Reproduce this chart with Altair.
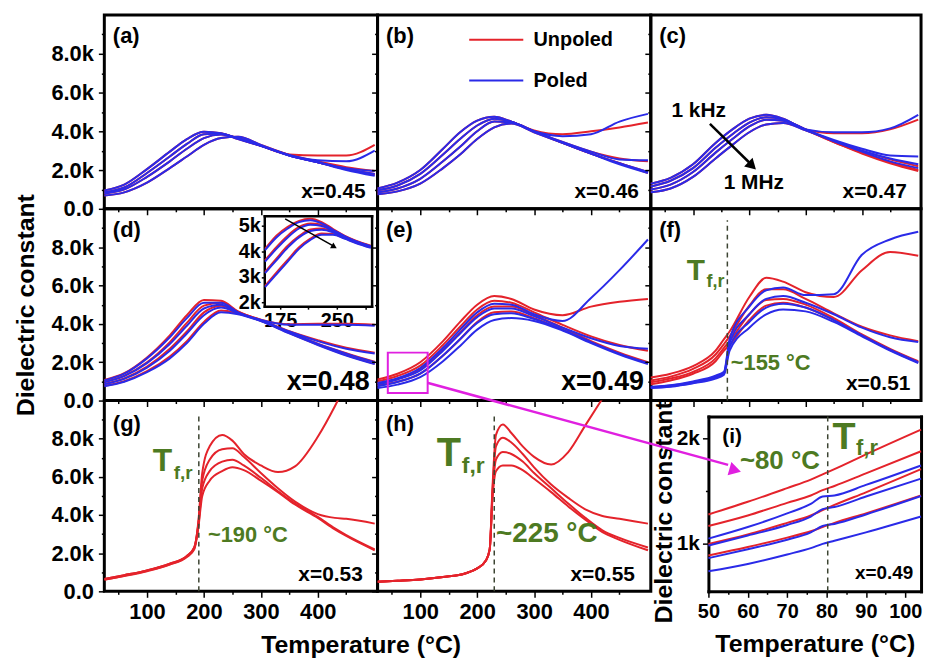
import altair as alt
import pandas as pd

FONT = "Liberation Sans"
RED = "#e4232b"
BLUE = "#2a2ae8"
GREEN = "#4d7a22"
MAGENTA = "#e020e0"
DASH = "#3c4432"

# ---------------- data (dielectric constant in units of 1k) ----------------
T_STD = [25, 60, 100, 140, 170, 200, 230, 260, 300, 350, 400, 450, 500]

# (a) x=0.45
A_UNPOLED = [[0.95, 1.25, 2.05, 2.95, 3.6, 3.98, 3.9, 3.6, 3.25, 2.8, 2.75, 2.75, 3.3],
             [0.85, 1.1, 1.85, 2.7, 3.35, 3.85, 3.88, 3.62, 3.25, 2.78, 2.45, 2.15, 1.95],
             [0.78, 1.0, 1.65, 2.45, 3.1, 3.65, 3.83, 3.65, 3.25, 2.75, 2.4, 2.05, 1.8],
             [0.68, 0.85, 1.35, 2.1, 2.7, 3.3, 3.65, 3.72, 3.3, 2.78, 2.4, 2.05, 1.75]]
A_POLED = [[0.95, 1.25, 2.05, 2.95, 3.6, 3.98, 3.9, 3.6, 3.25, 2.78, 2.5, 2.45, 3.0],
           [0.85, 1.1, 1.85, 2.7, 3.35, 3.85, 3.88, 3.62, 3.25, 2.75, 2.4, 2.1, 1.95],
           [0.78, 1.0, 1.65, 2.45, 3.1, 3.65, 3.83, 3.65, 3.25, 2.75, 2.4, 2.05, 1.8],
           [0.68, 0.85, 1.35, 2.1, 2.7, 3.3, 3.65, 3.72, 3.3, 2.75, 2.4, 2.0, 1.7]]

# (b) x=0.46
B_UNPOLED = [[1.05, 1.35, 2.0, 3.1, 3.95, 4.55, 4.75, 4.5, 4.05, 3.85, 4.0, 4.2, 4.45],
             [0.95, 1.2, 1.8, 2.8, 3.6, 4.3, 4.65, 4.5, 4.0, 3.45, 2.95, 2.6, 2.45],
             [0.85, 1.05, 1.55, 2.45, 3.2, 4.0, 4.5, 4.45, 4.0, 3.4, 2.85, 2.35, 1.9],
             [0.75, 0.9, 1.3, 2.1, 2.8, 3.6, 4.2, 4.4, 3.95, 3.4, 2.85, 2.35, 1.85]]
B_POLED = [[1.05, 1.35, 2.0, 3.1, 3.95, 4.55, 4.75, 4.5, 4.0, 3.75, 3.85, 4.5, 4.9],
           [0.95, 1.2, 1.8, 2.8, 3.6, 4.3, 4.65, 4.5, 4.0, 3.45, 2.95, 2.55, 2.5],
           [0.85, 1.05, 1.55, 2.45, 3.2, 4.0, 4.5, 4.45, 4.0, 3.4, 2.85, 2.35, 1.9],
           [0.75, 0.9, 1.3, 2.1, 2.8, 3.6, 4.2, 4.4, 3.95, 3.4, 2.85, 2.3, 1.85]]

# (c) x=0.47
C_UNPOLED = [[1.3, 1.6, 2.3, 3.4, 4.1, 4.65, 4.85, 4.65, 4.1, 3.9, 3.9, 4.1, 4.6],
             [1.15, 1.45, 2.1, 3.15, 3.85, 4.45, 4.72, 4.6, 4.1, 3.5, 3.0, 2.55, 2.2],
             [1.0, 1.25, 1.9, 2.9, 3.6, 4.25, 4.6, 4.55, 4.08, 3.45, 2.9, 2.4, 2.0],
             [0.85, 1.05, 1.65, 2.6, 3.3, 3.95, 4.35, 4.43, 4.05, 3.45, 2.85, 2.35, 1.95]]
C_POLED = [[1.3, 1.6, 2.3, 3.4, 4.1, 4.65, 4.85, 4.65, 4.1, 3.95, 3.95, 4.15, 4.85],
           [1.15, 1.45, 2.1, 3.15, 3.85, 4.45, 4.72, 4.6, 4.1, 3.55, 3.1, 2.75, 2.7],
           [1.0, 1.25, 1.9, 2.9, 3.6, 4.25, 4.6, 4.55, 4.08, 3.5, 3.0, 2.6, 2.3],
           [0.85, 1.05, 1.65, 2.6, 3.3, 3.95, 4.35, 4.43, 4.05, 3.5, 2.95, 2.45, 2.1]]

# (d) x=0.48
D_UNPOLED = [[1.08, 1.43, 2.25, 3.4, 4.45, 5.25, 5.2, 4.65, 4.22, 3.98, 4.0, 4.0, 3.95],
             [0.98, 1.3, 2.0, 3.05, 4.05, 4.95, 5.1, 4.62, 4.2, 3.62, 3.15, 2.75, 2.5],
             [0.87, 1.16, 1.77, 2.7, 3.6, 4.6, 4.95, 4.6, 4.18, 3.57, 2.97, 2.47, 2.02],
             [0.77, 1.01, 1.53, 2.3, 3.1, 4.1, 4.7, 4.55, 4.16, 3.52, 2.92, 2.37, 1.92]]
D_POLED = [[1.05, 1.4, 2.2, 3.3, 4.3, 5.1, 5.1, 4.6, 4.2, 3.95, 3.95, 3.95, 3.9],
           [0.95, 1.27, 1.95, 2.95, 3.9, 4.8, 5.0, 4.58, 4.18, 3.6, 3.1, 2.7, 2.45],
           [0.85, 1.13, 1.72, 2.6, 3.5, 4.45, 4.85, 4.55, 4.16, 3.55, 2.95, 2.45, 2.0],
           [0.75, 0.98, 1.48, 2.2, 3.0, 4.0, 4.6, 4.5, 4.14, 3.5, 2.9, 2.35, 1.9]]

# inset of (d)
T_INSET = [155, 170, 185, 200, 215, 230, 245, 260, 275, 295]
INSET_UNPOLED = [[4.1, 4.62, 4.97, 5.2, 5.28, 5.15, 4.88, 4.62, 4.42, 4.22],
                 [3.65, 4.17, 4.62, 4.96, 5.1, 5.05, 4.83, 4.6, 4.4, 4.2],
                 [3.2, 3.72, 4.22, 4.6, 4.86, 4.9, 4.78, 4.57, 4.38, 4.18],
                 [2.65, 3.17, 3.67, 4.16, 4.5, 4.7, 4.68, 4.52, 4.35, 4.16]]
INSET_POLED = [[4.05, 4.55, 4.9, 5.15, 5.22, 5.1, 4.85, 4.6, 4.4, 4.2],
               [3.6, 4.1, 4.55, 4.9, 5.05, 5.0, 4.8, 4.58, 4.38, 4.18],
               [3.15, 3.65, 4.15, 4.55, 4.8, 4.85, 4.75, 4.55, 4.36, 4.16],
               [2.6, 3.1, 3.6, 4.1, 4.45, 4.65, 4.65, 4.5, 4.33, 4.14]]

# (e) x=0.49
E_UNPOLED = [[1.1, 1.4, 2.0, 3.1, 4.1, 5.0, 5.45, 5.3, 4.75, 4.45, 4.9, 5.15, 5.3],
             [1.0, 1.28, 1.82, 2.9, 3.85, 4.75, 5.2, 5.1, 4.6, 3.95, 3.35, 2.9, 2.6],
             [0.9, 1.12, 1.65, 2.65, 3.55, 4.45, 4.9, 4.9, 4.45, 3.8, 3.1, 2.5, 2.0],
             [0.78, 0.98, 1.4, 2.35, 3.2, 4.1, 4.6, 4.65, 4.3, 3.7, 3.05, 2.45, 1.95]]
E_POLED = [[0.92, 1.17, 1.7, 2.75, 3.7, 4.6, 5.05, 5.0, 4.5, 4.15, 5.35, 6.8, 8.4],
           [0.85, 1.1, 1.57, 2.6, 3.5, 4.35, 4.8, 4.8, 4.4, 3.8, 3.25, 2.85, 2.7],
           [0.75, 0.97, 1.4, 2.35, 3.2, 4.05, 4.5, 4.55, 4.25, 3.7, 3.05, 2.45, 1.95],
           [0.65, 0.83, 1.22, 2.05, 2.85, 3.7, 4.2, 4.3, 4.15, 3.65, 3.0, 2.4, 1.9]]

# (f) x=0.51
T_F = [25, 60, 100, 140, 155, 165, 200, 230, 260, 300, 350, 400, 450, 500]
F_UNPOLED = [[1.2, 1.4, 1.8, 2.6, 3.2, 3.6, 5.4, 6.4, 6.2, 5.65, 5.4, 6.8, 7.75, 7.55],
             [1.05, 1.25, 1.65, 2.4, 2.95, 3.35, 4.95, 5.8, 5.8, 5.3, 4.55, 3.85, 3.4, 3.1],
             [0.95, 1.15, 1.5, 2.2, 2.75, 3.1, 4.5, 5.25, 5.3, 5.0, 4.3, 3.45, 2.7, 2.05],
             [0.85, 1.05, 1.4, 2.05, 2.6, 2.9, 4.2, 4.95, 5.1, 4.85, 4.2, 3.4, 2.65, 2.0]]
F_POLED = [[0.72, 0.8, 1.0, 1.3, 1.5, 3.2, 4.9, 5.75, 5.9, 5.5, 5.55, 7.6, 8.4, 8.8],
           [0.7, 0.78, 0.95, 1.25, 1.45, 3.0, 4.5, 5.3, 5.45, 5.1, 4.5, 3.8, 3.3, 3.05],
           [0.68, 0.75, 0.92, 1.2, 1.4, 2.8, 4.1, 4.85, 5.05, 4.85, 4.2, 3.4, 2.65, 2.0],
           [0.65, 0.72, 0.9, 1.15, 1.35, 2.6, 3.8, 4.5, 4.75, 4.65, 4.1, 3.35, 2.6, 1.95]]

# (g) x=0.53
T_G = [25, 60, 100, 140, 170, 183, 190, 197, 210, 232, 250, 270, 300, 330, 360, 400, 430, 450, 500]
G_UNPOLED = [[0.65, 0.85, 1.1, 1.45, 1.85, 2.3, 3.6, 6.2, 7.6, 8.2, 7.9, 7.2, 6.6, 6.25, 6.55, 8.1, 9.7, 10.9, 13.0],
             [0.65, 0.85, 1.1, 1.45, 1.85, 2.3, 3.5, 5.8, 6.9, 7.45, 7.5, 7.05, 6.2, 5.4, 4.7, 4.05, 3.85, 3.8, 3.55],
             [0.62, 0.82, 1.08, 1.42, 1.82, 2.25, 3.4, 5.4, 6.3, 6.8, 6.9, 6.6, 5.95, 5.25, 4.6, 3.9, 3.3, 2.95, 2.2],
             [0.6, 0.8, 1.05, 1.4, 1.8, 2.2, 3.3, 5.0, 5.8, 6.3, 6.5, 6.35, 5.8, 5.2, 4.55, 3.85, 3.25, 2.9, 2.15]]

# (h) x=0.55
T_H = [25, 60, 100, 140, 180, 200, 215, 222, 227, 233, 245, 260, 280, 300, 330, 360, 390, 420, 450, 500]
H_UNPOLED = [[0.5, 0.55, 0.62, 0.75, 0.95, 1.2, 1.6, 2.2, 5.5, 8.2, 8.75, 8.3, 7.6, 7.05, 6.65, 7.3, 8.7, 10.1, 11.5, 14.0],
             [0.5, 0.55, 0.62, 0.75, 0.95, 1.2, 1.6, 2.2, 5.3, 7.6, 8.05, 7.8, 7.2, 6.5, 5.6, 4.9, 4.3, 3.95, 3.8, 3.55],
             [0.5, 0.55, 0.62, 0.75, 0.95, 1.2, 1.6, 2.2, 5.1, 6.9, 7.3, 7.2, 6.8, 6.2, 5.4, 4.6, 3.85, 3.2, 2.8, 2.3],
             [0.5, 0.55, 0.62, 0.75, 0.95, 1.2, 1.6, 2.2, 4.9, 6.3, 6.6, 6.6, 6.35, 5.9, 5.2, 4.45, 3.75, 3.1, 2.7, 2.15]]

# (i) x=0.49, zoom 50-104 C
T_I = [50, 60, 70, 76, 79, 82, 90, 104]
I_UNPOLED = [[1.28, 1.40, 1.53, 1.61, 1.66, 1.71, 1.85, 2.085],
             [1.17, 1.27, 1.39, 1.46, 1.51, 1.55, 1.67, 1.88],
             [1.0, 1.09, 1.2, 1.27, 1.32, 1.37, 1.49, 1.71],
             [0.89, 0.97, 1.06, 1.12, 1.16, 1.20, 1.29, 1.46]]
I_POLED = [[1.05, 1.16, 1.29, 1.38, 1.45, 1.46, 1.56, 1.745],
           [0.985, 1.08, 1.18, 1.26, 1.33, 1.35, 1.45, 1.62],
           [0.865, 0.95, 1.04, 1.11, 1.17, 1.19, 1.28, 1.455],
           [0.74, 0.81, 0.9, 0.96, 1.0, 1.03, 1.11, 1.26]]


# ---------------- helpers ----------------
def curve_frame(T, unpoled, poled):
    rows = []
    for pol, arrs in (("Unpoled", unpoled), ("Poled", poled)):
        for k, arr in enumerate(arrs):
            for t, v in zip(T, arr):
                rows.append({"T": t, "v": v, "pol": pol, "curve": f"{pol}-{k}"})
    return pd.DataFrame(rows, columns=["T", "v", "pol", "curve"])


def cond(test, major, minor):
    return {"condition": {"test": test, "value": major}, "value": minor}


def main_x(labels=False, title=None):
    kw = dict(values=list(range(50, 500, 50)), labels=labels,
              labelExpr="datum.value % 100 === 0 ? '' + datum.value : ''",
              tickSize=cond("datum.value % 100 === 0", 6, 3), grid=False, domain=False,
              labelFlush=False, labelOverlap=False, labelPadding=4)
    if title:
        kw.update(title=title, titleX=258, titlePadding=11)
    else:
        kw["title"] = None
    return alt.X("T:Q", scale=alt.Scale(domain=[25, 505], nice=False, zero=False), axis=alt.Axis(**kw))


def main_y(labels=False, title=None):
    kw = dict(values=list(range(0, 10)), labels=labels,
              labelExpr="datum.value % 2 === 0 ? (datum.value === 0 ? '0.0' : format(datum.value, '.1f') + 'k') : ''",
              tickSize=cond("datum.value % 2 === 0", 6, 3), grid=False, domain=False,
              labelFlush=False, labelOverlap=False, labelPadding=5)
    if title:
        kw.update(title=title, titlePadding=12)
    else:
        kw["title"] = None
    return alt.Y("v:Q", scale=alt.Scale(domain=[0, 10], nice=False, zero=False), axis=alt.Axis(**kw))


def line_layers(df, X, Y, clip=False):
    out = []
    for pol, col in (("Unpoled", RED), ("Poled", BLUE)):
        sub = df[df["pol"] == pol]
        if len(sub):
            out.append(alt.Chart(sub).mark_line(color=col, strokeWidth=2, interpolate="monotone", clip=clip)
                       .encode(x=X, y=Y, detail="curve:N"))
    return out


def label(X, Y, T, v, s, size, color="black", align="left", baseline="alphabetic"):
    return alt.Chart(pd.DataFrame({"T": [T], "v": [v], "s": [s]})).mark_text(
        font=FONT, fontWeight="bold", fontSize=size, color=color, align=align, baseline=baseline
    ).encode(x=X, y=Y, text="s:N")


def seg(X, Y, T1, v1, T2, v2, color, width, dash=None):
    kw = dict(color=color, strokeWidth=width)
    if dash:
        kw["strokeDash"] = dash
    return alt.Chart(pd.DataFrame({"T": [T1], "v": [v1], "T2": [T2], "v2": [v2]})).mark_rule(**kw).encode(
        x=X, y=Y, x2="T2:Q", y2="v2:Q")


def head(X, Y, T, v, color, size, angle):
    return alt.Chart(pd.DataFrame({"T": [T], "v": [v]})).mark_point(
        shape="triangle-right", filled=True, color=color, size=size, angle=angle, opacity=1, strokeWidth=0
    ).encode(x=X, y=Y)


W1, W2, W3 = 275, 275, 272
H1, H2, H3 = 195, 193, 192

# ---------------- row 1 ----------------
X = main_x(); Y = main_y(labels=True)
p_a = alt.layer(*line_layers(curve_frame(T_STD, A_UNPOLED, A_POLED), X, Y),
                label(X, Y, 40, 8.9, "(a)", 22, baseline="middle"),
                label(X, Y, 484, 0.85, "x=0.45", 21, align="right", baseline="middle")
                ).properties(width=W1, height=H1)

X = main_x(); Y = main_y()
p_b = alt.layer(*line_layers(curve_frame(T_STD, B_UNPOLED, B_POLED), X, Y),
                label(X, Y, 40, 8.9, "(b)", 22, baseline="middle"),
                seg(X, Y, 186, 8.72, 281, 8.72, RED, 2),
                seg(X, Y, 186, 6.62, 281, 6.62, BLUE, 2),
                label(X, Y, 299, 8.72, "Unpoled", 20, baseline="middle"),
                label(X, Y, 299, 6.62, "Poled", 20, baseline="middle"),
                label(X, Y, 484, 0.85, "x=0.46", 21, align="right", baseline="middle")
                ).properties(width=W2, height=H1)

X = main_x(); Y = main_y()
p_c = alt.layer(*line_layers(curve_frame(T_STD, C_UNPOLED, C_POLED), X, Y),
                label(X, Y, 40, 8.9, "(c)", 22, baseline="middle"),
                label(X, Y, 110, 5.05, "1 kHz", 21, align="center", baseline="middle"),
                label(X, Y, 208, 1.35, "1 MHz", 21, align="center", baseline="middle"),
                seg(X, Y, 130, 4.38, 203, 2.3, "black", 2.5),
                head(X, Y, 205, 2.22, "black", 150, 44),
                label(X, Y, 480, 0.85, "x=0.47", 21, align="right", baseline="middle")
                ).properties(width=W3, height=H1)

# ---------------- row 2 ----------------
X = main_x(); Y = main_y(labels=True, title="Dielectric constant")
d_main = alt.layer(*line_layers(curve_frame(T_STD, D_UNPOLED, D_POLED), X, Y),
                   label(X, Y, 40, 8.9, "(d)", 22, baseline="middle"),
                   label(X, Y, 491, 0.95, "x=0.48", 27, align="right", baseline="middle"))
XD = alt.X("T:Q", scale=alt.Scale(domain=[154, 296], range=[161, 269], nice=False, zero=False),
           axis=alt.Axis(orient="bottom", offset=-95, values=[175, 212.5, 250, 287.5],
                         labelExpr="datum.value === 175 || datum.value === 250 ? '' + datum.value : ''",
                         tickSize=3, labelFontSize=20, labelPadding=1, labelFlush=False, labelOverlap=False,
                         domain=True, domainWidth=2.5, domainColor="black", domainCap="square", title=None))
YD = alt.Y("v:Q", scale=alt.Scale(domain=[1.85, 5.4], range=[98, 7], nice=False, zero=False),
           axis=alt.Axis(orient="left", offset=-161, values=[2, 3, 4, 5], labelExpr="datum.value + 'k'",
                         tickSize=3, labelFontSize=20, labelPadding=1, labelFlush=False, labelOverlap=False,
                         domain=True, domainWidth=2.5, domainColor="black", domainCap="square", title=None))
d_inset = alt.layer(*line_layers(curve_frame(T_INSET, INSET_UNPOLED, INSET_POLED), XD, YD))
XD2 = alt.X("T:Q", scale=alt.Scale(domain=[154, 296], range=[161, 269], nice=False, zero=False),
            axis=alt.Axis(orient="top", offset=-7, labels=False, ticks=False, domain=True, domainWidth=2.5,
                          domainColor="black", domainCap="square", title=None))
YD2 = alt.Y("v:Q", scale=alt.Scale(domain=[1.85, 5.4], range=[98, 7], nice=False, zero=False),
            axis=alt.Axis(orient="right", offset=-6, labels=False, ticks=False, domain=True, domainWidth=2.5,
                          domainColor="black", domainCap="square", title=None))
d_inset2 = alt.layer(seg(XD2, YD2, 181.6, 5.28, 244, 4.24, "black", 1.5),
                     head(XD2, YD2, 246.5, 4.18, "black", 45, 30))
p_d = alt.layer(d_main, d_inset, d_inset2).resolve_scale(x="independent", y="independent").properties(
    width=W1, height=H2)

X = main_x(); Y = main_y()
p_e = alt.layer(*line_layers(curve_frame(T_STD, E_UNPOLED, E_POLED), X, Y),
                label(X, Y, 40, 8.9, "(e)", 22, baseline="middle"),
                alt.Chart(pd.DataFrame({"T": [43], "v": [0.4], "T2": [113], "v2": [2.5]})).mark_rect(
                    fillOpacity=0, stroke=MAGENTA, strokeWidth=2).encode(x=X, y=Y, x2="T2:Q", y2="v2:Q"),
                label(X, Y, 493, 0.95, "x=0.49", 27, align="right", baseline="middle")
                ).properties(width=W2, height=H2)

X = main_x(); Y = main_y()
p_f = alt.layer(*line_layers(curve_frame(T_F, F_UNPOLED, F_POLED), X, Y),
                seg(X, Y, 161, 0, 161, 9.4, DASH, 1.5, dash=[5, 4]),
                label(X, Y, 40, 8.9, "(f)", 22, baseline="middle"),
                label(X, Y, 89, 6.3, "T", 30, color=GREEN),
                label(X, Y, 124, 5.9, "f,r", 18, color=GREEN),
                label(X, Y, 167, 1.6, "~155 °C", 22, color=GREEN),
                label(X, Y, 486, 0.85, "x=0.51", 21, align="right", baseline="middle")
                ).properties(width=W3, height=H2)

# ---------------- row 3 ----------------
X = main_x(labels=True, title="Temperature (°C)"); Y = main_y(labels=True)
p_g = alt.layer(*line_layers(curve_frame(T_G, G_UNPOLED, []), X, Y, clip=True),
                seg(X, Y, 191, 0, 191, 9.3, DASH, 1.5, dash=[5, 4]),
                label(X, Y, 40, 8.75, "(g)", 22, baseline="middle"),
                label(X, Y, 110, 6.3, "T", 32, color=GREEN),
                label(X, Y, 147, 5.9, "f,r", 19, color=GREEN),
                label(X, Y, 207, 2.6, "~190 °C", 22, color=GREEN),
                label(X, Y, 479, 0.85, "x=0.53", 21, align="right", baseline="middle")
                ).properties(width=W1, height=H3)

X = main_x(labels=True); Y = main_y()
p_h = alt.layer(*line_layers(curve_frame(T_H, H_UNPOLED, []), X, Y, clip=True),
                seg(X, Y, 230, 0, 230, 9.3, DASH, 1.5, dash=[5, 4]),
                label(X, Y, 40, 8.75, "(h)", 22, baseline="middle"),
                label(X, Y, 129, 6.55, "T", 40, color=GREEN),
                label(X, Y, 173, 6.2, "f,r", 23, color=GREEN),
                label(X, Y, 233, 2.6, "~225 °C", 28, color=GREEN),
                label(X, Y, 477, 0.85, "x=0.55", 21, align="right", baseline="middle")
                ).properties(width=W2, height=H3)

XI = alt.X("T:Q", scale=alt.Scale(domain=[50, 104], range=[58, 272], nice=False, zero=False),
           axis=alt.Axis(orient="bottom", values=list(range(50, 105, 5)),
                         labelExpr="datum.value % 10 === 0 ? '' + datum.value : ''",
                         tickSize=cond("datum.value % 10 === 0", 6, 3), labelFontSize=20, labelPadding=4,
                         labelFlush=False, labelOverlap=False, domain=True, domainWidth=3, domainColor="black",
                         domainCap="square", title="Temperature (°C)", titlePadding=11))
YI = alt.Y("v:Q", scale=alt.Scale(domain=[0.55, 2.21], range=[192, 16], nice=False, zero=False),
           axis=alt.Axis(orient="left", offset=-58, values=[1, 1.5, 2],
                         labelExpr="datum.value === 1 ? '1k' : (datum.value === 2 ? '2k' : '')",
                         tickSize=cond("datum.value !== 1.5", 6, 3), labelFontSize=21, labelPadding=3,
                         labelFlush=False, labelOverlap=False, domain=True, domainWidth=3, domainColor="black",
                         domainCap="square", title="Dielectric constant", titlePadding=0, titleY=112))
i_main = alt.layer(*line_layers(curve_frame(T_I, I_UNPOLED, I_POLED), XI, YI),
                   label(XI, YI, 53.5, 1.96, "(i)", 21),
                   label(XI, YI, 58, 1.71, "~80 °C", 26, color=GREEN),
                   label(XI, YI, 81.5, 1.90, "T", 38, color=GREEN),
                   label(XI, YI, 87.5, 1.84, "f,r", 22, color=GREEN),
                   label(XI, YI, 102, 0.67, "x=0.49", 19, align="right"),
                   seg(XI, YI, -21.4, 2.53, 55.0, 1.75, MAGENTA, 2.5),
                   head(XI, YI, 56.8, 1.70, MAGENTA, 190, 16))
XI2 = alt.X("T:Q", scale=alt.Scale(domain=[50, 104], range=[58, 272], nice=False, zero=False),
            axis=alt.Axis(orient="top", offset=-16, labels=False, ticks=False, domain=True, domainWidth=3,
                          domainColor="black", domainCap="square", title=None))
YI2 = alt.Y("v:Q", scale=alt.Scale(domain=[0.55, 2.21], range=[192, 16], nice=False, zero=False),
            axis=alt.Axis(orient="right", labels=False, ticks=False, domain=True, domainWidth=3,
                          domainColor="black", domainCap="square", title=None))
i_frame = seg(XI2, YI2, 80.3, 0.55, 80.3, 2.21, DASH, 1.5, dash=[5, 4])
p_i = alt.layer(i_main, i_frame).resolve_scale(x="independent", y="independent").properties(
    width=W3, height=H3, view=alt.ViewBackground(stroke="transparent"))

chart = alt.concat(p_a, p_b, p_c, p_d, p_e, p_f, p_g, p_h, p_i,
                   columns=3, spacing=0, bounds="flush").properties(
    padding={"left": 12, "top": 11, "right": 1, "bottom": 4},
    autosize=alt.AutoSizeParams(type="pad"),
).configure_view(stroke="black", strokeWidth=3).configure_axis(
    labelFont=FONT, labelFontWeight="bold", labelFontSize=22, labelColor="black",
    titleFont=FONT, titleFontWeight="bold", titleFontSize=25, titleColor="black",
    tickColor="black", tickWidth=1.5, grid=False,
)

chart.save("out.html", embed_options={"renderer": "svg", "actions": False})
